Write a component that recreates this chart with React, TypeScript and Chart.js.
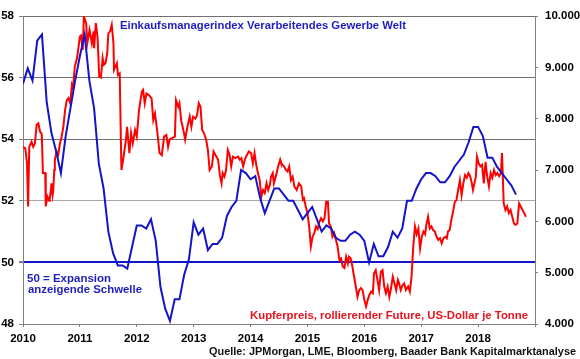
import React, { useEffect, useRef } from "react";
import { Chart, registerables } from "chart.js";

Chart.register(...registerables);

// Einkaufsmanagerindex Verarbeitendes Gewerbe Welt, monthly from Jan 2010
const pmiStartYear = 2010;
const pmiValues = [
  55.8, 56.3, 55.9, 57.2, 57.4, 55.2, 54.2, 53.6, 52.9, 54.1, 55.0, 55.9,
  56.7, 57.4, 55.9, 55.0, 53.2, 52.4, 51.0, 50.3, 49.9, 49.9, 49.8, 50.5,
  51.2, 51.2, 51.1, 51.4, 50.7, 49.2, 48.5, 48.1, 48.8, 48.8, 49.6, 50.1,
  51.3, 50.9, 51.1, 50.4, 50.6, 50.6, 50.8, 51.5, 51.8, 52.0, 53.0, 52.9,
  52.7, 52.8, 52.1, 51.6, 52.0, 52.4, 52.4, 52.2, 52.0, 52.0, 51.7, 51.4,
  51.6, 51.8, 51.4, 51.0, 51.2, 51.1, 50.8, 50.7, 50.7, 50.9, 51.0, 50.9,
  50.7, 50.0, 50.6, 50.2, 50.2, 50.5, 51.0, 50.8, 51.1, 52.0, 52.0, 52.4,
  52.7, 52.9, 52.9, 52.8, 52.6, 52.6, 52.8, 53.1, 53.3, 53.5, 53.9, 54.4,
  54.4, 54.1, 53.4, 53.4, 53.1, 52.9, 52.7, 52.5, 52.2,
];

// Kupferpreis, rollierender Future (USD/t)
const copperDates = [
  2010.00, 2010.04, 2010.07, 2010.09, 2010.11, 2010.15, 2010.18, 2010.21, 2010.24, 2010.27,
  2010.30, 2010.33, 2010.35, 2010.39, 2010.40, 2010.43, 2010.46, 2010.47, 2010.49, 2010.50,
  2010.52, 2010.53, 2010.55, 2010.56, 2010.59, 2010.62, 2010.65, 2010.68, 2010.71, 2010.74,
  2010.77, 2010.80, 2010.83, 2010.86, 2010.88, 2010.91, 2010.95, 2011.00, 2011.02, 2011.05,
  2011.07, 2011.11, 2011.13, 2011.17, 2011.21, 2011.24, 2011.25, 2011.28, 2011.31, 2011.34,
  2011.37, 2011.40, 2011.42, 2011.45, 2011.48, 2011.50, 2011.53, 2011.56, 2011.59, 2011.60,
  2011.65, 2011.67, 2011.70, 2011.73, 2011.76, 2011.81, 2011.83, 2011.87, 2011.90, 2011.93,
  2011.97, 2012.00, 2012.04, 2012.09, 2012.11, 2012.14, 2012.17, 2012.21, 2012.26, 2012.29,
  2012.32, 2012.35, 2012.37, 2012.40, 2012.44, 2012.48, 2012.52, 2012.55, 2012.58, 2012.62,
  2012.67, 2012.69, 2012.73, 2012.75, 2012.78, 2012.83, 2012.85, 2012.89, 2012.93, 2012.96,
  2012.99, 2013.03, 2013.06, 2013.09, 2013.12, 2013.15, 2013.18, 2013.22, 2013.25, 2013.28,
  2013.32, 2013.35, 2013.40, 2013.43, 2013.46, 2013.49, 2013.51, 2013.54, 2013.57, 2013.60,
  2013.63, 2013.66, 2013.69, 2013.73, 2013.78, 2013.81, 2013.84, 2013.87, 2013.90, 2013.92,
  2013.97, 2014.01, 2014.04, 2014.07, 2014.10, 2014.13, 2014.16, 2014.19, 2014.22, 2014.25,
  2014.28, 2014.31, 2014.34, 2014.36, 2014.39, 2014.41, 2014.45, 2014.48, 2014.52, 2014.53,
  2014.56, 2014.59, 2014.62, 2014.65, 2014.68, 2014.71, 2014.74, 2014.77, 2014.81, 2014.85,
  2014.89, 2014.92, 2014.94, 2014.97, 2015.00, 2015.03, 2015.06, 2015.09, 2015.12, 2015.15,
  2015.18, 2015.21, 2015.24, 2015.27, 2015.30, 2015.33, 2015.36, 2015.38, 2015.41, 2015.44,
  2015.47, 2015.50, 2015.53, 2015.56, 2015.59, 2015.62, 2015.65, 2015.68, 2015.71, 2015.73,
  2015.76, 2015.79, 2015.82, 2015.85, 2015.88, 2015.91, 2015.94, 2015.97, 2016.00, 2016.03,
  2016.06, 2016.09, 2016.12, 2016.15, 2016.17, 2016.20, 2016.23, 2016.26, 2016.29, 2016.32,
  2016.35, 2016.38, 2016.41, 2016.44, 2016.47, 2016.50, 2016.53, 2016.56, 2016.59, 2016.61,
  2016.64, 2016.67, 2016.70, 2016.73, 2016.77, 2016.80, 2016.83, 2016.86, 2016.89, 2016.92,
  2016.95, 2016.98, 2017.01, 2017.04, 2017.07, 2017.09, 2017.12, 2017.15, 2017.18, 2017.21,
  2017.24, 2017.27, 2017.30, 2017.33, 2017.36, 2017.39, 2017.42, 2017.45, 2017.47, 2017.50,
  2017.53, 2017.56, 2017.59, 2017.62, 2017.65, 2017.68, 2017.71, 2017.74, 2017.77, 2017.80,
  2017.83, 2017.86, 2017.89, 2017.91, 2017.96, 2017.98, 2018.01, 2018.04, 2018.07, 2018.10,
  2018.13, 2018.16, 2018.19, 2018.22, 2018.25, 2018.28, 2018.31, 2018.34, 2018.37, 2018.40,
  2018.42, 2018.45, 2018.48, 2018.51, 2018.54, 2018.57, 2018.60, 2018.63, 2018.66, 2018.69,
  2018.72, 2018.75, 2018.78, 2018.81, 2018.84,
];
const copperValues = [
  7450, 7420, 7150, 6290, 7450, 7550, 7450, 7520, 7880, 7910,
  7750, 7700, 6940, 6940, 6290, 6480, 6400, 6450, 6610, 6740,
  6510, 6580, 7000, 7200, 7360, 7300, 7520, 7650, 7850, 8170,
  8360, 8400, 8300, 8660, 8600, 9010, 9180, 9600, 9620, 9340,
  9990, 9860, 9470, 9730, 9470, 9700, 9370, 9860, 9600, 8820,
  8800, 9180, 9050, 9080, 9270, 9660, 9700, 9830, 9470, 8950,
  9080, 8850, 8880, 7000, 7200, 7590, 7840, 7330, 7720, 7520,
  7780, 7650, 8170, 8530, 8560, 8300, 8490, 8460, 8400, 7970,
  8100, 7840, 7650, 7330, 7290, 7650, 7680, 7450, 7600, 7620,
  7650, 8360, 8230, 8300, 7970, 7720, 7590, 7840, 8040, 7840,
  8040, 8000, 8070, 8300, 8230, 7780, 7720, 7590, 7390, 7000,
  7070, 7360, 7260, 7200, 6900, 6740, 6940, 6870, 7000, 7390,
  7300, 7070, 7260, 7230, 7260, 7200, 7230, 7070, 7200, 7260,
  7360, 7330, 7130, 7330, 7100, 6940, 6800, 6480, 6610, 6550,
  6740, 6610, 6710, 6870, 6940, 6740, 6900, 7050, 7200, 7160,
  7100, 7070, 7000, 6970, 7070, 6800, 6870, 6680, 6610, 6740,
  6680, 6420, 6450, 6290, 6160, 5900, 5510, 5700, 5770, 5900,
  5850, 5990, 6060, 6000, 6060, 6380, 6380, 5960, 5900, 5700,
  5770, 5640, 5510, 5250, 5280, 5120, 5090, 5310, 5180, 5310,
  5280, 5120, 4920, 4730, 4530, 4660, 4700, 4660, 4470, 4340,
  4470, 4570, 4630, 4600, 4990, 5050, 4860, 4660, 5020, 5050,
  4730, 4600, 4730, 4530, 4700, 4920, 4790, 4660, 4860, 4800,
  4660, 4750, 4790, 4660, 4730, 4630, 4920, 5510, 5900, 5750,
  5860, 5470, 5700, 5800, 5750, 5930, 6090, 5860, 5900, 5830,
  5800, 5700, 5640, 5670, 5570, 5670, 5700, 5670, 5800, 5830,
  6030, 6190, 6380, 6420, 6610, 6800, 6510, 6740, 6900, 6850,
  6940, 6880, 6740, 6610, 6870, 7260, 7130, 7070, 7100, 6740,
  7160, 6870, 6680, 6940, 6850, 7000, 6900, 6940, 6880, 6940,
  7330, 6350, 6220, 6290, 6160, 6220, 6090, 5960, 5930, 5960,
  6350, 6290, 6220, 6160, 6090,
];

const xMin = 2010;
const xMax = 2019;
const pmiMin = 48;
const pmiMax = 58;
const pmiStep = 2;
const pmiThreshold = 50;
const copperMin = 4000;
const copperMax = 10000;
const copperStep = 1000;

const titlePmi = "Einkaufsmanagerindex Verarbeitendes Gewerbe Welt";
const thresholdLines = ["50 = Expansion", "anzeigende Schwelle"];
const titleCopper = "Kupferpreis, rollierender Future, US-Dollar je Tonne";
const sourceText = "Quelle: JPMorgan, LME, Bloomberg, Baader Bank Kapitalmarktanalyse";

const BLUE = "#1414c8";
const RED = "#ff0000";
const FONT = '"Liberation Sans", Arial, sans-serif';

function formatThousands(v: number): string {
  const s = String(Math.round(v));
  return s.replace(/\B(?=(\d{3})+(?!\d))/g, ".");
}

const textPlugin = {
  id: "annotTexts",
  afterDraw(chart: any) {
    const ctx = chart.ctx as CanvasRenderingContext2D;
    ctx.save();
    ctx.textAlign = "left";
    ctx.textBaseline = "alphabetic";
    ctx.font = `bold 11.5px ${FONT}`;
    ctx.fillStyle = "#1e1ec0";
    ctx.fillText(titlePmi, 120, 28.7, 286);
    ctx.fillText(thresholdLines[0], 27, 281.5, 86);
    ctx.fillText(thresholdLines[1], 28, 292.5, 114);
    ctx.fillStyle = "#e8141e";
    ctx.fillText(titleCopper, 250, 319, 278);
    ctx.fillStyle = "#111111";
    ctx.font = `bold 11.5px ${FONT}`;
    ctx.fillText(sourceText, 209, 355, 367);
    ctx.restore();
  },
};

export default function App() {
  const canvasRef = useRef<HTMLCanvasElement | null>(null);

  useEffect(() => {
    document.body.style.margin = "0";
    const canvas = canvasRef.current;
    if (!canvas) return;

    const pmiData = pmiValues.map((v, i) => ({ x: pmiStartYear + i / 12, y: v }));
    const copperData = copperValues.map((v, i) => ({ x: copperDates[i], y: v }));

    const tickFont = { family: FONT, size: 11.5, weight: "bold" as const };

    const chart = new Chart(canvas, {
      type: "line",
      data: {
        datasets: [
          {
            label: titlePmi,
            data: pmiData,
            yAxisID: "y",
            borderColor: BLUE,
            borderWidth: 2,
            pointRadius: 0,
            tension: 0,
            fill: false,
          },
          {
            label: titleCopper,
            data: copperData,
            yAxisID: "y1",
            borderColor: RED,
            borderWidth: 2,
            pointRadius: 0,
            tension: 0,
            fill: false,
          },
        ],
      },
      options: {
        responsive: false,
        animation: false,
        devicePixelRatio: 1,
        layout: { padding: { top: 16, left: 0, right: 0, bottom: 0 } },
        plugins: {
          legend: { display: false },
          tooltip: { enabled: false },
        },
        scales: {
          x: {
            type: "linear",
            min: xMin,
            max: xMax,
            afterFit: (scale: any) => {
              scale.height = 35;
            },
            ticks: {
              stepSize: 1,
              autoSkip: false,
              maxRotation: 0,
              color: "#000",
              font: tickFont,
              padding: 5,
              callback: (v: any) => (v === xMax ? "" : String(v)),
            },
            grid: {
              drawOnChartArea: false,
              drawTicks: true,
              tickLength: 3,
              tickColor: "#808080",
            },
            border: { display: true, color: "#808080", width: 1 },
          },
          y: {
            position: "left",
            min: pmiMin,
            max: pmiMax,
            afterFit: (scale: any) => {
              scale.width = 23;
            },
            ticks: {
              stepSize: pmiStep,
              color: "#000",
              font: tickFont,
              padding: 5,
            },
            grid: {
              drawOnChartArea: true,
              drawTicks: true,
              tickLength: 4,
              tickColor: "#808080",
              color: (c: any) => {
                const v = c.tick && c.tick.value;
                if (v === pmiThreshold) return BLUE;
                if (v === 52) return "#a8a8a8";
                return "#707070";
              },
              lineWidth: (c: any) => {
                const v = c.tick && c.tick.value;
                return v === pmiThreshold ? 2 : 1;
              },
            },
            border: { display: true, color: "#808080", width: 1 },
          },
          y1: {
            position: "right",
            min: copperMin,
            max: copperMax,
            afterFit: (scale: any) => {
              scale.width = 45;
            },
            ticks: {
              stepSize: copperStep,
              color: "#000",
              font: tickFont,
              padding: 7,
              callback: (v: any) => formatThousands(Number(v)),
            },
            grid: {
              drawOnChartArea: false,
              drawTicks: true,
              tickLength: 3,
              tickColor: "#808080",
            },
            border: { display: true, color: "#808080", width: 1 },
          },
        },
      },
      plugins: [textPlugin],
    });

    return () => {
      chart.destroy();
    };
  }, []);

  return (
    <div style={{ width: 580, height: 359, position: "relative" }}>
      <canvas ref={canvasRef} width={580} height={359} style={{ display: "block" }} />
    </div>
  );
}
